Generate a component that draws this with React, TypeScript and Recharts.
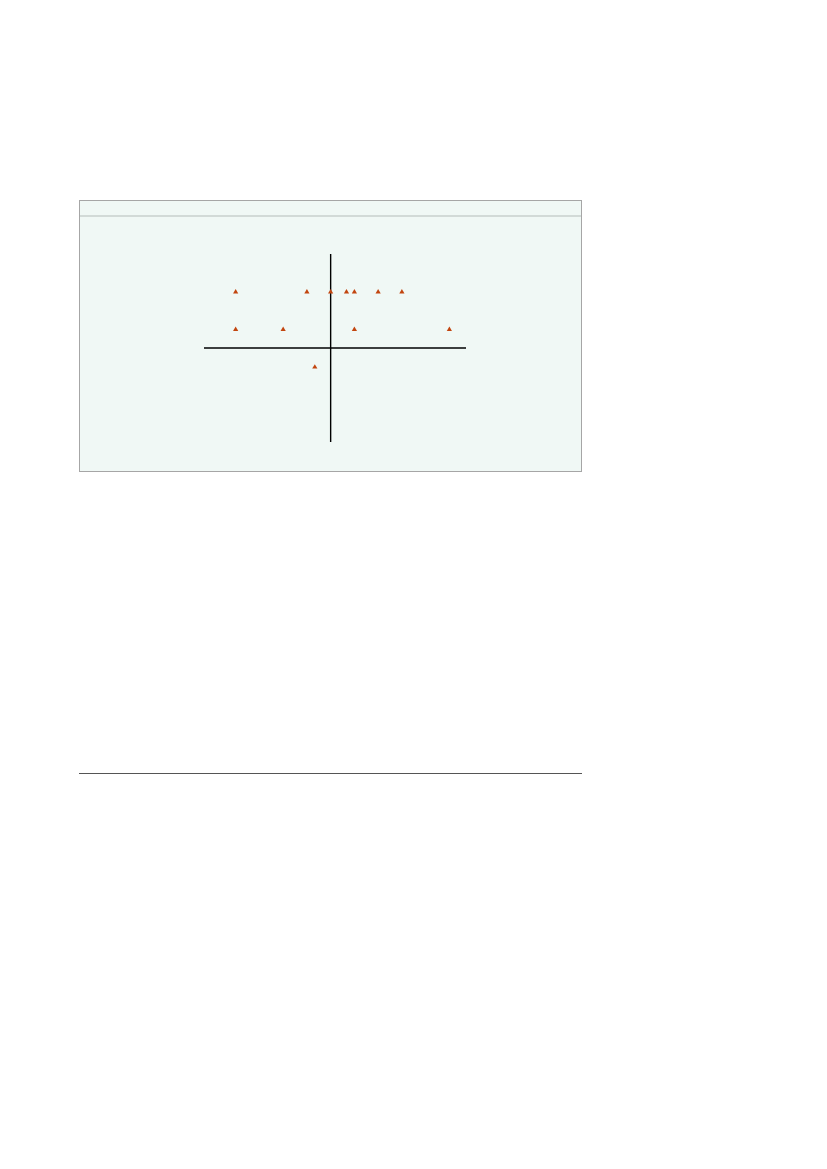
import React from 'react';
import { ScatterChart, Scatter, XAxis, YAxis, ReferenceLine } from 'recharts';

// points (x, y in axis units)
const xValues = [-12, -3, 0, 2, 3, 6, 9, -12, -6, 3, 15, -2];
const yValues = [3, 3, 3, 3, 3, 3, 3, 1, 1, 1, 1, -1];
const xDomain = [-16, 17.1];
const yDomain = [-5, 5];

const points = xValues.map((x, i) => ({ x, y: yValues[i] }));

// tiny triangle marker, centred on the point recharts computes
const TinyTriangle = (props: any) => {
  const { cx, cy } = props;
  if (cx == null || cy == null) return null;
  return (
    <path
      d={`M${cx},${cy - 2.6} L${cx + 2.6},${cy + 1.8} L${cx - 2.6},${cy + 1.8} Z`}
      fill="#c2450f"
    />
  );
};

export default function App() {
  return (
    <div>
      {/* framed panel */}
      <div
        style={{
          position: 'absolute',
          left: 79,
          top: 200,
          width: 501,
          height: 270,
          border: '1px solid #a6a6a6',
          background: '#f0f8f5',
        }}
      >
        <div style={{ position: 'absolute', left: 0, right: 0, top: 14, height: 2, background: '#d2dad7' }} />
      </div>

      <div style={{ position: 'absolute', left: 204, top: 254 }}>
        <ScatterChart width={262} height={188} margin={{ top: 0, right: 0, bottom: 0, left: 0 }}>
          <XAxis type="number" dataKey="x" domain={xDomain} hide />
          <YAxis type="number" dataKey="y" domain={yDomain} hide />
          <ReferenceLine x={0} stroke="#000" strokeWidth={1.4} />
          <ReferenceLine y={0} stroke="#000" strokeWidth={1.4} />
          <Scatter data={points} shape={<TinyTriangle />} isAnimationActive={false} />
        </ScatterChart>
      </div>

      {/* rule lower on the page */}
      <div style={{ position: 'absolute', left: 79, top: 773, width: 503, height: 1, background: '#555' }} />
    </div>
  );
}
